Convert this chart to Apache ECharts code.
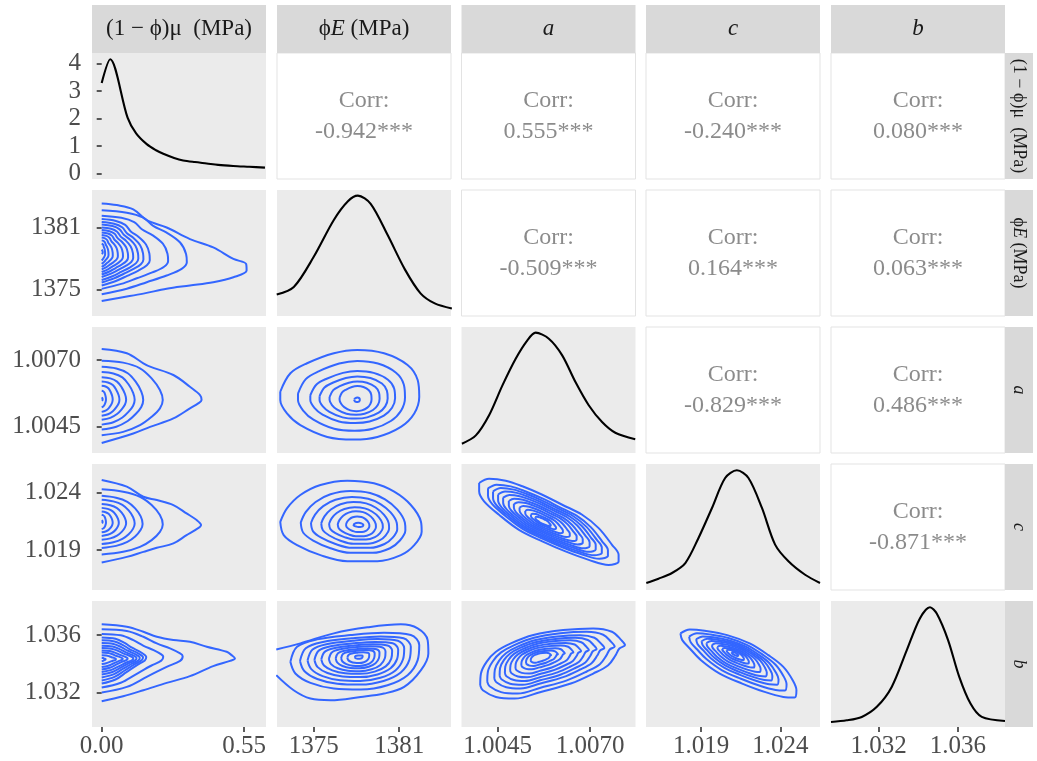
<!DOCTYPE html>
<html>
<head>
<meta charset="utf-8">
<script src="https://cdn.jsdelivr.net/npm/echarts@6/dist/echarts.min.js"></script>
<style>html,body{margin:0;padding:0;background:#fff}#box{width:1037px;height:761px}</style>
</head>
<body>
<div id="box"></div>
<script>
var chart = echarts.init(document.getElementById('box'));
var FONT = "'Liberation Serif', 'DejaVu Serif', serif";

// variables (order of the matrix)
var varRich = ['(1 − ϕ)μ  (MPa)', '{n|ϕ}{i|E}{n| (MPa)}', '{i|a}', '{i|c}', '{i|b}'];
var axisRanges = [[-0.0375, 0.635], [1372.42, 1384.64], [1.003525, 1.00823], [1.01553, 1.0265], [1.0296, 1.03837]];
var tickValues = [[0, 0.55], [1375, 1381], [1.0045, 1.0070], [1.019, 1.024], [1.032, 1.036]];
var tickDigits = [2, 0, 4, 3, 3];
var densRange = [-0.194, 4.377];
var densTicks = [0, 1, 2, 3, 4];

// correlations (upper triangle, row i / column j)
var corrValues = [
  [null, -0.942, 0.555, -0.240, 0.080],
  [null, null, -0.509, 0.164, 0.063],
  [null, null, null, -0.829, 0.486],
  [null, null, null, null, -0.871]
];

// diagonal densities (first in real units, others scaled to panel height)
var dens1x = [0, 0.033, 0.1, 0.133, 0.174, 0.21, 0.238, 0.28, 0.315, 0.36, 0.406, 0.45, 0.508, 0.57, 0.631];
var dens1y = [3.29, 4.15, 2.03, 1.46, 1.07, 0.85, 0.72, 0.57, 0.48, 0.42, 0.37, 0.32, 0.28, 0.25, 0.22];
var dens2x = [1372.4, 1373.6, 1375.0, 1376.4, 1377.4, 1378.1, 1379.0, 1380.2, 1381.4, 1382.5, 1383.5, 1384.7];
var dens2y = [0.17, 0.23, 0.47, 0.76, 0.91, 0.955, 0.89, 0.64, 0.37, 0.18, 0.10, 0.06];
var dens3x = [1.003536, 1.003913, 1.004271, 1.004632, 1.00499, 1.005306, 1.005529, 1.005887, 1.006248, 1.006607, 1.006965, 1.007326, 1.007684, 1.008223];
var dens3y = [0.074, 0.14, 0.30, 0.537, 0.748, 0.894, 0.955, 0.907, 0.775, 0.563, 0.379, 0.246, 0.161, 0.109];
var dens4x = [1.01555, 1.01632, 1.01717, 1.01801, 1.01884, 1.01969, 1.02052, 1.02126, 1.02199, 1.02284, 1.02367, 1.02451, 1.02556, 1.0265];
var dens4y = [0.056, 0.09, 0.135, 0.214, 0.413, 0.651, 0.889, 0.95, 0.889, 0.651, 0.36, 0.228, 0.121, 0.056];
var dens5x = [1.0296, 1.03039, 1.03115, 1.03191, 1.03266, 1.03342, 1.03408, 1.03459, 1.03493, 1.0355, 1.03606, 1.03663, 1.0372, 1.03837];
var dens5y = [0.04, 0.053, 0.08, 0.16, 0.318, 0.61, 0.862, 0.95, 0.90, 0.69, 0.40, 0.186, 0.08, 0.048];

// 2d density contours: outer ring, second ring, centre and relative sizes of inner rings
var outer21 = [[0,1383.34],[0.058,1383.18],[0.122,1382.77],[0.174,1381.71],[0.251,1381.0],[0.341,1379.88],[0.431,1379.07],[0.509,1377.95],[0.558,1377.47],[0.56,1376.83],[0.509,1376.18],[0.431,1375.7],[0.341,1375.38],[0.251,1375.07],[0.161,1374.59],[0.071,1374.2],[0,1373.87]];
var inner21 = [[0,1382.67],[0.097,1382.44],[0.161,1381.96],[0.199,1381.16],[0.251,1380.51],[0.303,1379.55],[0.326,1378.44],[0.329,1377.63],[0.309,1376.99],[0.251,1376.35],[0.174,1375.7],[0.097,1375.07],[0,1374.52]];
var center21 = [0, 1378.62];
var levels21 = [[0.78,0.87],[0.565,0.79],[0.49,0.72],[0.43,0.66],[0.37,0.59],[0.31,0.53],[0.25,0.47],[0.19,0.41],[0.13,0.35],[0.08,0.28],[0.04,0.2],[0.012,0.06]];

var outer31 = [[0,1.007412],[0.097,1.007251],[0.161,1.006876],[0.187,1.006749],[0.277,1.006438],[0.341,1.005999],[0.38,1.005688],[0.386,1.005501],[0.373,1.005377],[0.341,1.00519],[0.277,1.004815],[0.187,1.0045],[0.122,1.004253],[0,1.0039]];
var inner31 = [[0,1.006974],[0.083,1.006899],[0.148,1.006689],[0.193,1.006314],[0.225,1.005876],[0.236,1.005501],[0.225,1.00519],[0.193,1.004875],[0.148,1.004564],[0.083,1.004313],[0,1.004189]];
var center31 = [0, 1.00553];
var levels31 = [[0.68,0.84],[0.54,0.705],[0.4,0.57],[0.29,0.46],[0.18,0.35],[0.07,0.22],[0.015,0.05]];

var outer41 = [[0,1.025108],[0.097,1.024524],[0.161,1.023651],[0.213,1.023363],[0.277,1.022927],[0.328,1.022202],[0.367,1.021618],[0.384,1.021182],[0.361,1.020745],[0.328,1.020309],[0.277,1.019585],[0.213,1.019201],[0.161,1.018852],[0.097,1.018415],[0,1.017927]];
var inner41 = [[0,1.024297],[0.083,1.024087],[0.148,1.023651],[0.193,1.022927],[0.225,1.022054],[0.236,1.021243],[0.225,1.020597],[0.193,1.019873],[0.148,1.019288],[0.083,1.018852],[0,1.018625]];
var center41 = [0, 1.02146];
var levels41 = [[0.67,0.8],[0.54,0.68],[0.4,0.55],[0.28,0.43],[0.18,0.32],[0.07,0.22],[0.015,0.05]];

var outer51 = [[0,1.036745],[0.097,1.036578],[0.161,1.036229],[0.213,1.03588],[0.277,1.03565],[0.341,1.035531],[0.406,1.035182],[0.483,1.034833],[0.502,1.034603],[0.515,1.034373],[0.496,1.034205],[0.431,1.033835],[0.341,1.033137],[0.251,1.03267],[0.161,1.03216],[0.083,1.031742],[0,1.031393]];
var inner51 = [[0,1.036396],[0.097,1.036278],[0.161,1.03588],[0.213,1.035419],[0.264,1.03507],[0.303,1.034722],[0.313,1.034533],[0.303,1.034205],[0.251,1.033786],[0.174,1.033089],[0.097,1.032391],[0,1.032]];
var center51 = [0, 1.0343];
var levels51 = [[0.76,0.85],[0.55,0.73],[0.51,0.635],[0.47,0.545],[0.43,0.455],[0.39,0.38],[0.32,0.3],[0.26,0.23],[0.18,0.14],[0.05,0.05]];

var outer32 = [[1372.65,1.005812],[1373.36,1.006501],[1374.53,1.006876],[1376.41,1.007251],[1378.06,1.007375],[1379.94,1.007251],[1381.59,1.006813],[1382.3,1.00625],[1382.41,1.005624],[1382.06,1.005002],[1381.12,1.0045],[1379.47,1.004125],[1377.82,1.004028],[1375.95,1.004125],[1374.06,1.004564],[1373.12,1.005002],[1372.65,1.005501],[1372.65,1.005812]];
var center32 = [1378.06, 1.005501];
var levels32 = [[0.77,0.78],[0.61,0.58],[0.49,0.47],[0.36,0.37],[0.23,0.28],[0.04,0.05]];

var outer42 = [[1372.65,1.021469],[1373.12,1.022639],[1374.06,1.023799],[1375.47,1.024672],[1377.36,1.025047],[1379.23,1.02482],[1380.65,1.024087],[1381.82,1.022927],[1382.53,1.021469],[1382.58,1.020597],[1382.06,1.019436],[1381.12,1.018564],[1379.47,1.01804],[1377.36,1.01804],[1375.47,1.018564],[1373.83,1.019436],[1372.89,1.020309],[1372.65,1.021469]];
var center42 = [1378.18, 1.021182];
var levels42 = [[0.74,0.77],[0.61,0.63],[0.48,0.52],[0.38,0.4],[0.27,0.31],[0.165,0.195],[0.07,0.05]];

var outer52 = [[1372.37,1.035001],[1374.06,1.035419],[1376.41,1.036117],[1378.77,1.036536],[1381.12,1.036745],[1382.3,1.036466],[1383.0,1.03565],[1383.05,1.034722],[1382.53,1.033556],[1381.35,1.032391],[1379.94,1.03193],[1378.3,1.031693],[1376.18,1.031463],[1374.77,1.031581],[1373.59,1.03216],[1372.37,1.033207]];
var inner52 = [[1373.36,1.034135],[1373.83,1.035182],[1375.24,1.035699],[1377.59,1.035999],[1379.94,1.036159],[1381.82,1.035999],[1382.41,1.035301],[1382.3,1.034254],[1381.59,1.033207],[1380.18,1.032509],[1378.3,1.032209],[1376.41,1.032279],[1374.77,1.03267],[1373.71,1.033326],[1373.36,1.034135]];
var center52 = [1378.18, 1.034484];
var levels52 = [[0.86,0.85],[0.75,0.74],[0.65,0.62],[0.55,0.52],[0.44,0.44],[0.34,0.35],[0.26,0.28],[0.17,0.19],[0.06,0.06]];

var outer43 = [[1.004002,1.024846],[1.004271,1.025222],[1.004721,1.025047],[1.005171,1.024558],[1.00571,1.023825],[1.006248,1.022953],[1.006787,1.02208],[1.007234,1.02092],[1.007595,1.019462],[1.007773,1.01859],[1.007773,1.018014],[1.007504,1.017717],[1.006965,1.018154],[1.006337,1.018887],[1.00571,1.019759],[1.005079,1.02077],[1.00454,1.02208],[1.004136,1.02325],[1.004002,1.024122],[1.004002,1.024846]];
var center43 = [1.00571, 1.021504];
var levels43 = [[0.86,0.86],[0.78,0.78],[0.7,0.7],[0.62,0.62],[0.53,0.53],[0.45,0.45],[0.36,0.36],[0.27,0.27],[0.18,0.18],[0.11,0.11]];

var outer53 = [[1.004031,1.032508],[1.004051,1.033322],[1.004203,1.034136],[1.004456,1.034834],[1.004861,1.035416],[1.005468,1.035997],[1.006277,1.036346],[1.007087,1.036462],[1.007593,1.03623],[1.007846,1.035648],[1.007947,1.035299],[1.007795,1.035067],[1.007694,1.034601],[1.007491,1.033904],[1.007087,1.033322],[1.00648,1.032624],[1.00567,1.032042],[1.004962,1.031577],[1.004456,1.031693],[1.004102,1.032159],[1.004031,1.032508]];
var center53 = [1.00562, 1.034485];
var levels53 = [[0.88,0.88],[0.76,0.76],[0.67,0.67],[0.58,0.58],[0.49,0.49],[0.4,0.4],[0.3,0.3],[0.22,0.22],[0.14,0.14]];

var outer54 = [[1.0177,1.036113],[1.01829,1.036393],[1.019234,1.0363],[1.020649,1.035997],[1.022065,1.035416],[1.023244,1.034601],[1.024188,1.033787],[1.024778,1.032857],[1.025014,1.032159],[1.024896,1.031647],[1.024188,1.031693],[1.023008,1.032042],[1.021593,1.032624],[1.020177,1.033322],[1.018998,1.034253],[1.01829,1.035067],[1.017818,1.035648],[1.0177,1.036113]];
var center54 = [1.021121, 1.034718];
var levels54 = [[0.84,0.84],[0.71,0.71],[0.61,0.61],[0.52,0.52],[0.42,0.42],[0.32,0.32],[0.23,0.23],[0.15,0.15],[0.06,0.06]];

// layout
var colLeft = [92, 277, 461.5, 646, 831];
var rowTop = [53, 190, 327, 464, 601];
var PW = 174, PH = 126;

function zip(xs, ys) {
  return xs.map(function(x, i) { return [x, ys[i]]; });
}
function scaleRing(pts, ctr, s) {
  return pts.map(function(p) {
    return [ctr[0] + (p[0] - ctr[0]) * s[0], ctr[1] + (p[1] - ctr[1]) * s[1]];
  });
}

var diagData = [zip(dens1x, dens1y), zip(dens2x, dens2y), zip(dens3x, dens3y), zip(dens4x, dens4y), zip(dens5x, dens5y)];
var contourSets = [
  {r: 1, c: 0, outer: outer21, inner: inner21, center: center21, levels: levels21},
  {r: 2, c: 0, outer: outer31, inner: inner31, center: center31, levels: levels31},
  {r: 3, c: 0, outer: outer41, inner: inner41, center: center41, levels: levels41},
  {r: 4, c: 0, outer: outer51, inner: inner51, center: center51, levels: levels51},
  {r: 2, c: 1, outer: outer32, center: center32, levels: levels32},
  {r: 3, c: 1, outer: outer42, center: center42, levels: levels42},
  {r: 4, c: 1, outer: outer52, inner: inner52, center: center52, levels: levels52},
  {r: 3, c: 2, outer: outer43, center: center43, levels: levels43},
  {r: 4, c: 2, outer: outer53, center: center53, levels: levels53},
  {r: 4, c: 3, outer: outer54, center: center54, levels: levels54}
];

var grids = [], xAxes = [], yAxes = [], series = [], graphics = [];
var labelStyle = {fontFamily: FONT, fontSize: 25, color: '#4D4D4D'};
var tickStyle = {color: '#333333', width: 1.6};

for (var r = 0; r < 5; r++) {
  for (var c = 0; c < 5; c++) {
    var idx = r * 5 + c;
    var upper = c > r;
    grids.push({
      left: colLeft[c], top: rowTop[r], width: PW, height: PH,
      show: true,
      backgroundColor: upper ? '#FFFFFF' : '#EBEBEB',
      borderColor: upper ? '#E3E3E3' : 'rgba(0,0,0,0)',
      borderWidth: upper ? 1 : 0,
      outerBoundsMode: 'none'
    });
    (function(c) {
      xAxes.push({
        gridIndex: idx, type: 'value',
        min: axisRanges[c][0], max: axisRanges[c][1],
        axisLine: {show: false}, splitLine: {show: false},
        axisTick: {show: r === 4, customValues: tickValues[c], length: 5, lineStyle: tickStyle},
        axisLabel: Object.assign({
          show: r === 4, customValues: tickValues[c], margin: 7,
          formatter: function(v) { return v.toFixed(tickDigits[c]); }
        }, labelStyle)
      });
    })(c);
    var ya;
    if (r === c && r === 0) {
      ya = {min: densRange[0], max: densRange[1], ticks: densTicks, digits: 0};
    } else if (r === c) {
      ya = {min: 0, max: 1, ticks: null, digits: 0};
    } else {
      ya = {min: axisRanges[r][0], max: axisRanges[r][1], ticks: tickValues[r], digits: tickDigits[r]};
    }
    (function(ya) {
      var showY = c === 0 && ya.ticks !== null;
      yAxes.push({
        gridIndex: idx, type: 'value', min: ya.min, max: ya.max,
        axisLine: {show: false}, splitLine: {show: false},
        axisTick: {show: showY, customValues: ya.ticks || [], length: 5, lineStyle: tickStyle},
        axisLabel: Object.assign({
          show: showY, customValues: ya.ticks || [], margin: 11,
          formatter: function(v) { return v.toFixed(ya.digits); }
        }, labelStyle)
      });
    })(ya);

    if (upper) {
      series.push({
        type: 'scatter', xAxisIndex: idx, yAxisIndex: idx, silent: true,
        data: [[(axisRanges[c][0] + axisRanges[c][1]) / 2, (axisRanges[r][0] + axisRanges[r][1]) / 2]],
        symbolSize: 1, itemStyle: {color: 'rgba(0,0,0,0)'},
        label: {
          show: true, position: 'inside',
          formatter: 'Corr:\n' + corrValues[r][c].toFixed(3) + '***',
          fontFamily: FONT, fontSize: 24, color: '#6E6E6E', lineHeight: 31, align: 'center'
        }
      });
    }
    if (r === c) {
      series.push({
        type: 'line', xAxisIndex: idx, yAxisIndex: idx, silent: true,
        data: diagData[r], showSymbol: false, symbol: 'none', smooth: 0.3,
        lineStyle: {color: '#000000', width: 2.1}
      });
    }
  }
}

contourSets.forEach(function(set) {
  var idx = set.r * 5 + set.c;
  var rings = [set.outer];
  var base = set.inner || set.outer;
  if (set.inner) rings.push(set.inner);
  set.levels.forEach(function(s) { rings.push(scaleRing(base, set.center, s)); });
  rings.forEach(function(pts) {
    series.push({
      type: 'line', xAxisIndex: idx, yAxisIndex: idx, silent: true,
      data: pts, showSymbol: false, symbol: 'none', smooth: 0.35,
      lineStyle: {color: '#3366FF', width: 2}
    });
  });
});

// strips: top (columns) and right (rows)
for (var k = 0; k < 5; k++) {
  graphics.push({
    type: 'rect', silent: true,
    shape: {x: colLeft[k], y: 5, width: PW, height: 48},
    style: {fill: '#D9D9D9'}
  });
  graphics.push({
    type: 'text', silent: true, x: colLeft[k] + PW / 2, y: 29,
    style: {
      text: varRich[k], fontFamily: FONT, fontSize: 23, fill: '#1A1A1A',
      align: 'center', verticalAlign: 'middle',
      rich: {n: {fontFamily: FONT, fontSize: 23, fill: '#1A1A1A'}, i: {fontFamily: FONT, fontSize: 23, fontStyle: 'italic', fill: '#1A1A1A'}}
    }
  });
  graphics.push({
    type: 'rect', silent: true,
    shape: {x: 1005, y: rowTop[k], width: 28, height: PH},
    style: {fill: '#D9D9D9'}
  });
  graphics.push({
    type: 'text', silent: true, x: 1019, y: rowTop[k] + PH / 2, rotation: -Math.PI / 2,
    style: {
      text: varRich[k], fontFamily: FONT, fontSize: 18, fill: '#1A1A1A',
      align: 'center', verticalAlign: 'middle',
      rich: {n: {fontFamily: FONT, fontSize: 18, fill: '#1A1A1A'}, i: {fontFamily: FONT, fontSize: 18, fontStyle: 'italic', fill: '#1A1A1A'}}
    }
  });
}

var option = {
  animation: false,
  backgroundColor: '#FFFFFF',
  grid: grids,
  xAxis: xAxes,
  yAxis: yAxes,
  graphic: graphics,
  series: series
};

chart.setOption(option);
</script>
</body>
</html>
